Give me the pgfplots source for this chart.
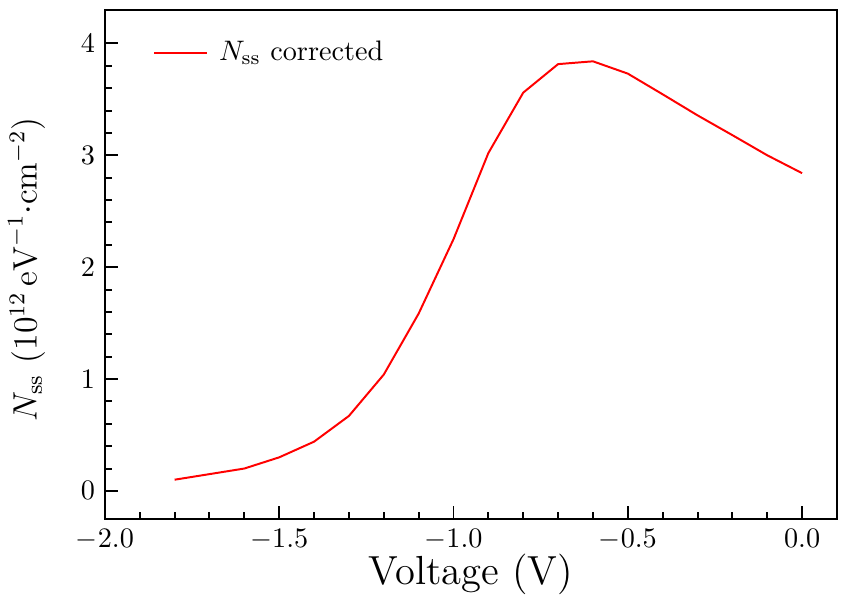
\documentclass[border=0pt]{standalone}
\usepackage{pgfplots}
\pgfplotsset{compat=1.18}
\begin{document}
\begin{tikzpicture}
\begin{axis}[
  scale only axis,
  width=259.6pt, height=180.5pt,
  xmin=-2, xmax=0.1,
  ymin=-0.25, ymax=4.3,
  xtick={-2,-1.5,-1,-0.5,0},
  xticklabels={$-2.0$,$-1.5$,$-1.0$,$-0.5$,$0.0$},
  ytick={0,1,2,3,4},
  minor x tick num=4,
  minor y tick num=4,
  xtick pos=bottom, ytick pos=left,
  tick align=inside,
  major tick length=4.7pt,
  minor tick length=2.5pt,
  every tick/.style={black, line width=0.7pt},
  axis line style={line width=0.7pt},
  tick label style={font=\normalsize},
  xlabel={Voltage (V)},
  ylabel={$N_{\mathrm{ss}}$ $(10^{12}\,\mathrm{eV}^{-1}{\cdot}\mathrm{cm}^{-2})$},
  xlabel style={font=\Large, at={(axis description cs:0.5,-0.11)}, anchor=center},
  ylabel style={font=\large, at={(axis description cs:-0.107,0.49)}, anchor=center},
  legend style={at={(axis description cs:0.065,0.916)}, anchor=west, draw=none, fill=none, font=\normalsize, inner sep=0pt, nodes={inner sep=1.7pt}},
  legend image code/.code={\draw[#1] (0pt,0pt) -- (18.8pt,0pt); \path (21pt,0pt);},
  legend cell align=left,
]
\addplot[red, line width=0.7pt] coordinates {
(-1.8,0.10) (-1.7,0.15) (-1.6,0.20) (-1.5,0.30) (-1.4,0.44) (-1.3,0.67)
(-1.2,1.04) (-1.1,1.585) (-1.0,2.25) (-0.9,3.02) (-0.8,3.56) (-0.7,3.815)
(-0.6,3.84) (-0.5,3.73) (-0.4,3.545) (-0.3,3.357) (-0.2,3.18) (-0.1,3.00) (0.0,2.84)
};
\addlegendentry{$N_{\mathrm{ss}}$ corrected}
\end{axis}
\pgfresetboundingbox
\path[use as bounding box] ([shift={(-37.2pt,-28.7pt)}]current axis.south west) rectangle ([shift={(3.2pt,3.5pt)}]current axis.north east);
\end{tikzpicture}
\end{document}
